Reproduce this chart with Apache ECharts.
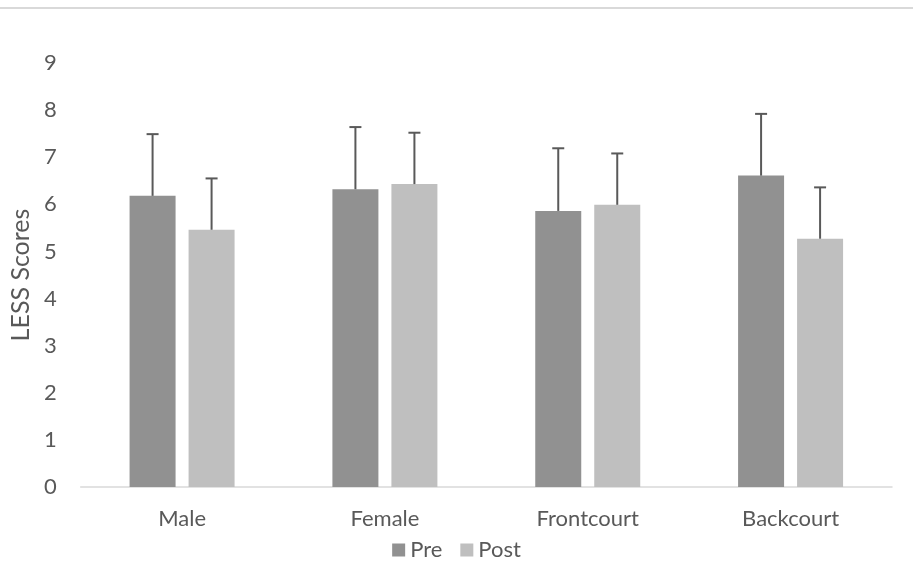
<!DOCTYPE html>
<html><head><meta charset="utf-8">
<script src="https://cdn.jsdelivr.net/npm/echarts@6/dist/echarts.min.js"></script>
<style>html,body{margin:0;padding:0;background:#fff}#c{width:913px;height:579px}</style>
</head><body><div id="c"></div>
<script>
const categories = ['Male', 'Female', 'Frontcourt', 'Backcourt'];
const preMean = [6.18, 6.32, 5.86, 6.61];
const postMean = [5.46, 6.43, 5.99, 5.27];
const preSD = [1.31, 1.32, 1.33, 1.31];
const postSD = [1.09, 1.09, 1.09, 1.09];
const yTicks = [0, 1, 2, 3, 4, 5, 6, 7, 8, 9];

const FONT = 'Lato';
const TXT = '#595959';
const BAR_W = 46, BAR_GAP = 13;

function errSeries(name, means, sds, side) {
  return {
    type: 'custom', name: name + ' err', silent: true, z: 5,
    data: means.map((m, i) => [i, m, m + sds[i]]),
    renderItem: function (params, api) {
      const i = api.value(0);
      const base = api.coord([i, api.value(1)]);
      const top = api.coord([i, api.value(2)]);
      const x = base[0] + side * (BAR_W + BAR_GAP) / 2;
      const st = { stroke: '#595959', lineWidth: 2 };
      return { type: 'group', children: [
        { type: 'line', shape: { x1: x, y1: base[1], x2: x, y2: top[1] }, style: st },
        { type: 'line', shape: { x1: x - 6, y1: top[1], x2: x + 6, y2: top[1] }, style: st }
      ]};
    }
  };
}

const chart = echarts.init(document.getElementById('c'), null, { renderer: 'canvas' });
chart.setOption({
  animation: false,
  backgroundColor: '#fff',
  textStyle: { fontFamily: FONT },
  graphic: [{ type: 'rect', shape: { x: 0, y: 7, width: 913, height: 2 }, style: { fill: '#d9d9d9' } }],
  grid: { left: 78, right: 21, top: 63, bottom: 92 },
  legend: {
    data: ['Pre', 'Post'], top: 534, left: 'center',
    itemWidth: 13, itemHeight: 13, itemGap: 18, icon: 'rect',
    textStyle: { color: TXT, fontSize: 22, fontFamily: FONT }
  },
  xAxis: {
    type: 'category', data: categories,
    axisLine: { lineStyle: { color: '#d9d9d9', width: 1.5 } },
    axisTick: { show: false },
    axisLabel: { color: TXT, fontSize: 22, fontFamily: FONT, margin: 21 }
  },
  yAxis: {
    type: 'value', min: yTicks[0], max: yTicks[yTicks.length - 1], interval: 1,
    name: 'LESS Scores', nameLocation: 'middle', nameGap: 46, nameRotate: 90,
    nameTextStyle: { color: TXT, fontSize: 25, fontFamily: FONT },
    axisLine: { show: false }, axisTick: { show: false }, splitLine: { show: false },
    axisLabel: { color: TXT, fontSize: 22, fontFamily: FONT, margin: 24 }
  },
  series: [
    { name: 'Pre', type: 'bar', data: preMean, barWidth: BAR_W, barGap: (BAR_GAP / BAR_W * 100) + '%',
      itemStyle: { color: '#919191' } },
    { name: 'Post', type: 'bar', data: postMean, barWidth: BAR_W,
      itemStyle: { color: '#bfbfbf' } },
    errSeries('Pre', preMean, preSD, -1),
    errSeries('Post', postMean, postSD, 1)
  ]
});
</script></body></html>
